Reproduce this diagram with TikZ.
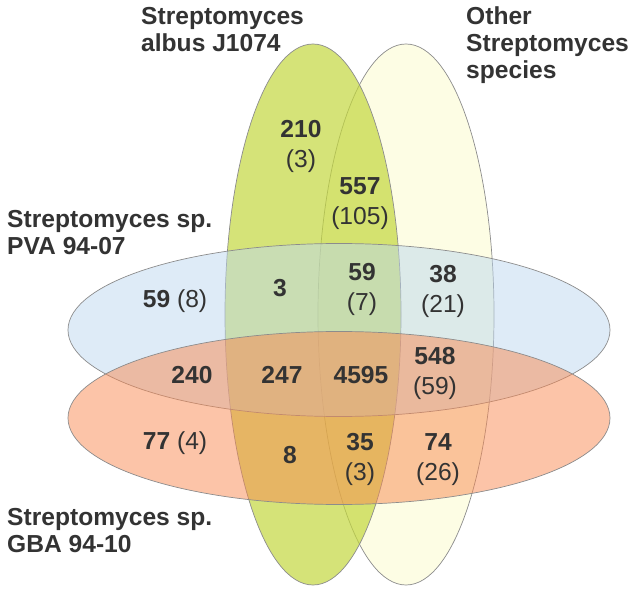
\documentclass[tikz,border=0pt]{standalone}
\usepackage{fontspec}
\setmainfont{Liberation Sans}
\usetikzlibrary{shapes.geometric}
\definecolor{ink}{HTML}{333333}
\definecolor{albg}{HTML}{C3D73E}
\definecolor{othy}{HTML}{FBFBC9}
\definecolor{pvab}{HTML}{BDD7EF}
\definecolor{gbar}{HTML}{F98951}

\begin{document}
\begin{tikzpicture}[x=1pt, y=-1pt,
  set/.style={ellipse, draw=black!45, line width=0.7pt, fill=#1, inner sep=0pt},
  vset/.style={set=#1, minimum width=176pt, minimum height=541pt},
  hset/.style={set=#1, minimum width=542pt, minimum height=173pt},
  lbl/.style={font=\fontsize{24.6}{27}\selectfont\bfseries, text=ink,
              align=left, anchor=base west, inner sep=0pt},
  cnt/.style={font=\fontsize{24.6}{30}\selectfont, text=ink,
              align=center, inner sep=0pt}
]
  \useasboundingbox (0,0) rectangle (634,593);

  \node[vset=othy, fill opacity=0.5] (oth) at (406,314.5) {};
  \node[vset=albg, fill opacity=0.7] (alb) at (313,314.5) {};
  \node[hset=pvab, fill opacity=0.5] (pva) at (339,330) {};
  \node[hset=gbar, fill opacity=0.5] (gba) at (339,418) {};

  \node[lbl] (talb) at (141,52) {Streptomyces\\albus J1074};
  \node[lbl] (toth) at (466,79) {Other\\Streptomyces\\species};
  \node[lbl] (tpva) at (7,255) {Streptomyces sp.\\PVA 94-07};
  \node[lbl] (tgba) at (7,552) {Streptomyces sp.\\GBA 94-10};

  \node[cnt] (n210) at (301,146) {\textbf{210}\\(3)};
  \node[cnt] (n557) at (360,204) {\textbf{557}\\(105)};
  \node[cnt] (n59a) at (175,301) {\textbf{59} (8)};
  \node[cnt] (n3) at (280,288) {\textbf{3}};
  \node[cnt] (n59b) at (362,289) {\textbf{59}\\(7)};
  \node[cnt] (n38) at (443,291) {\textbf{38}\\(21)};
  \node[cnt] (n240) at (192,375) {\textbf{240}};
  \node[cnt] (n247) at (282,375) {\textbf{247}};
  \node[cnt] (n4595) at (361,375) {\textbf{4595}};
  \node[cnt] (n548) at (435,373) {\textbf{548}\\(59)};
  \node[cnt] (n77) at (175,443) {\textbf{77} (4)};
  \node[cnt] (n8) at (290,455) {\textbf{8}};
  \node[cnt] (n35) at (360,459) {\textbf{35}\\(3)};
  \node[cnt] (n74) at (438,460) {\textbf{74}\\(26)};

\end{tikzpicture}
\end{document}
